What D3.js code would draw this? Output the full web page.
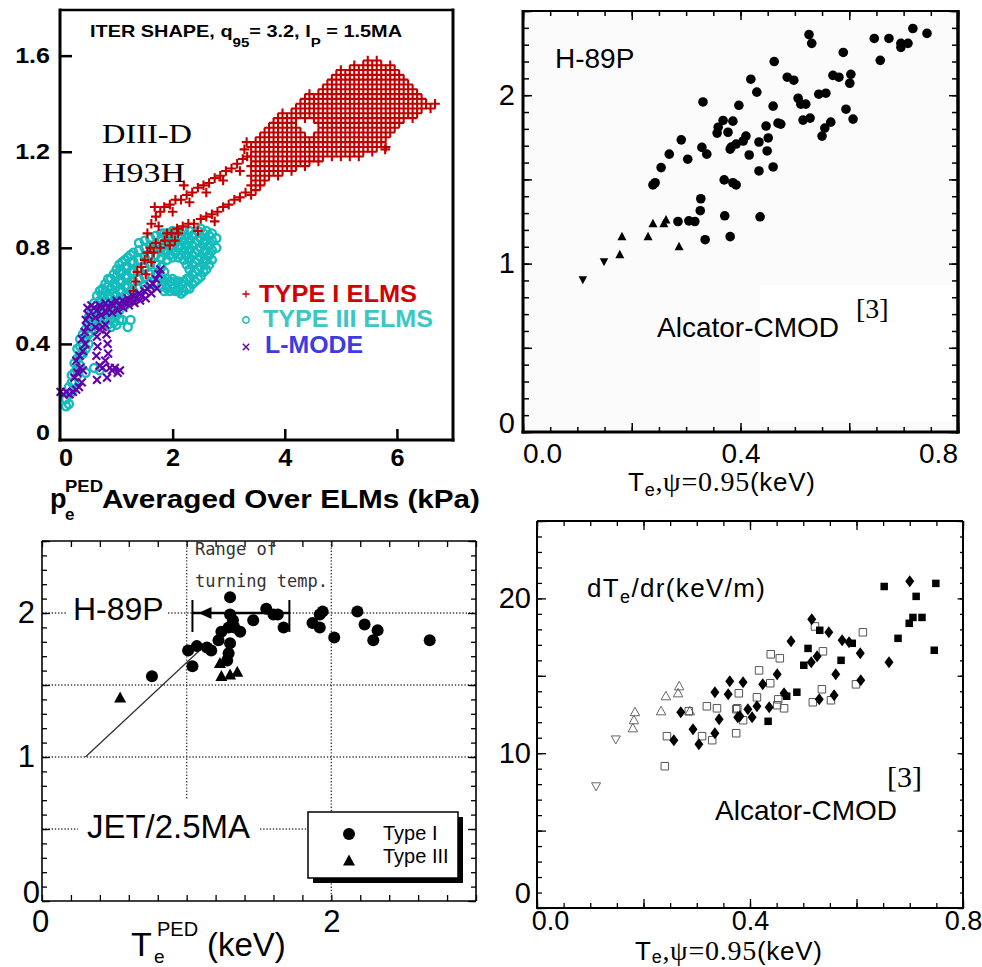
<!DOCTYPE html>
<html>
<head>
<meta charset="utf-8">
<script src="https://cdn.jsdelivr.net/npm/d3@7"></script>
<style>
  body { margin: 0; background: #fff; }
  svg { display: block; }
</style>
</head>
<body>
<svg id="fig" width="982" height="967"></svg>
<script>
// ---------- panel a : DIII-D, H93H vs p_e^PED ----------
const typeIStreaks = [
  [1.27,0.58],[1.3,0.62],[1.34,0.66],[1.37,0.7],[1.44,0.72],[1.5,0.75],[1.55,0.78],[1.6,0.8],[1.62,0.74],
  [1.52,0.69],[1.66,0.78],[1.7,0.82],[1.78,0.8],[1.86,0.83],[1.9,0.86],[1.95,0.81],[2.04,0.83],[2.1,0.86],
  [1.55,0.86],[1.62,0.9],[1.7,0.93],[1.75,0.89],[1.78,0.95],[1.85,0.97],[1.95,0.98],[2.0,0.95],[2.05,1.0],
  [2.15,1.0],[2.25,1.02],[2.3,0.99],[2.35,1.03],[2.45,1.05],[2.55,1.06],[2.6,1.03],[2.65,1.07],[2.75,1.09],
  [2.85,1.1],[2.9,1.08],[2.95,1.12],[3.05,1.13],[3.15,1.15],[3.2,1.12],[3.25,1.17],[3.33,1.18],
  [1.98,0.86],[2.08,0.88],[2.18,0.89],[2.28,0.9],[2.38,0.9],[2.45,0.87],[2.5,0.92],[2.6,0.93],[2.7,0.94],
  [2.75,0.91],[2.8,0.95],[2.9,0.97],[3.0,0.98],[3.1,1.0],[3.2,1.01],[3.3,1.03],
  [3.28,1.21],[3.32,1.24],[1.68,0.97],[2.2,1.06],[5.79,1.21]
];
const typeIBlock = [
  [3.40,[1.02,1.06,1.10,1.14,1.18,1.22]],
  [3.48,[1.04,1.08,1.12,1.16,1.20,1.24]],
  [3.56,[1.06,1.10,1.14,1.18,1.22,1.26]],
  [3.64,[1.08,1.12,1.16,1.20,1.24,1.28]],
  [3.72,[1.10,1.14,1.18,1.22,1.26,1.30]],
  [3.80,[1.12,1.16,1.20,1.24,1.28,1.32]],
  [3.88,[1.10,1.14,1.18,1.22,1.26,1.30,1.34]],
  [3.96,[1.12,1.16,1.20,1.24,1.28,1.32,1.36]],
  [4.04,[1.14,1.18,1.22,1.26,1.30,1.34]],
  [4.12,[1.12,1.16,1.20,1.24,1.28,1.32,1.36]],
  [4.20,[1.14,1.18,1.22,1.26,1.30,1.34,1.38]],
  [4.28,[1.16,1.20,1.24,1.28,1.36,1.40]],
  [4.36,[1.14,1.18,1.22,1.26,1.34,1.38,1.42]],
  [4.44,[1.16,1.20,1.24,1.36,1.40,1.44]],
  [4.52,[1.18,1.22,1.26,1.34,1.38,1.42]],
  [4.60,[1.16,1.20,1.24,1.28,1.32,1.36,1.40,1.44]],
  [4.68,[1.18,1.22,1.26,1.30,1.34,1.38,1.42,1.46]],
  [4.76,[1.20,1.24,1.28,1.32,1.36,1.40,1.44,1.48]],
  [4.84,[1.18,1.22,1.26,1.30,1.34,1.38,1.42,1.46,1.50]],
  [4.92,[1.20,1.24,1.28,1.32,1.36,1.40,1.44,1.48,1.52]],
  [5.00,[1.18,1.22,1.26,1.30,1.34,1.38,1.42,1.46,1.50,1.54]],
  [5.08,[1.20,1.24,1.28,1.32,1.36,1.40,1.44,1.48,1.52]],
  [5.16,[1.18,1.22,1.26,1.30,1.34,1.38,1.42,1.46,1.50,1.54]],
  [5.24,[1.20,1.24,1.28,1.32,1.36,1.40,1.44,1.48,1.52,1.56]],
  [5.32,[1.18,1.22,1.26,1.30,1.34,1.38,1.42,1.46,1.50,1.54]],
  [5.40,[1.20,1.24,1.28,1.32,1.36,1.40,1.44,1.48,1.52,1.56]],
  [5.48,[1.22,1.26,1.30,1.34,1.38,1.42,1.46,1.50,1.54,1.58]],
  [5.56,[1.20,1.24,1.28,1.32,1.36,1.40,1.44,1.48,1.52,1.56]],
  [5.64,[1.22,1.26,1.30,1.34,1.38,1.42,1.46,1.50,1.54,1.58]],
  [5.72,[1.24,1.28,1.32,1.36,1.40,1.44,1.48,1.52,1.56]],
  [5.80,[1.22,1.26,1.30,1.34,1.38,1.42,1.46,1.50,1.54]],
  [5.88,[1.28,1.32,1.36,1.40,1.44,1.48,1.52,1.56]],
  [5.96,[1.30,1.34,1.38,1.42,1.46,1.50,1.54]],
  [6.04,[1.32,1.36,1.40,1.44,1.48,1.52]],
  [6.12,[1.34,1.38,1.42,1.46,1.50]],
  [6.20,[1.36,1.40,1.44,1.48]],
  [6.28,[1.34,1.38,1.42,1.46]],
  [6.36,[1.36,1.40,1.44]],
  [6.44,[1.38,1.42]],
  [6.52,[1.40]],
  [6.60,[1.38]],
  [6.68,[1.40]]
];
const typeIIIBlock = [
  [0.10,[0.14,0.17]],
  [0.15,[0.15,0.19,0.22]],
  [0.20,[0.2,0.24,0.27]],
  [0.25,[0.24,0.28,0.32]],
  [0.30,[0.27,0.3,0.34,0.38]],
  [0.35,[0.31,0.35,0.39,0.42]],
  [0.40,[0.36,0.4,0.44]],
  [0.45,[0.28,0.38,0.42,0.46]],
  [0.50,[0.4,0.44,0.48,0.51]],
  [0.55,[0.45,0.49,0.53]],
  [0.60,[0.3,0.46,0.5,0.54,0.57]],
  [0.65,[0.48,0.52,0.56,0.6]],
  [0.70,[0.29,0.5,0.54,0.58,0.62]],
  [0.75,[0.48,0.52,0.56,0.6,0.63]],
  [0.80,[0.5,0.54,0.58,0.62,0.65]],
  [0.85,[0.48,0.52,0.56,0.6,0.64,0.67]],
  [0.90,[0.47,0.51,0.55,0.59,0.63,0.67]],
  [0.95,[0.49,0.53,0.57,0.61,0.65,0.69]],
  [1.00,[0.48,0.52,0.56,0.6,0.64,0.68,0.71]],
  [1.05,[0.5,0.54,0.58,0.62,0.66,0.7,0.73]],
  [1.10,[0.5,0.58,0.62,0.66,0.7,0.74]],
  [1.15,[0.56,0.6,0.64,0.68,0.72,0.75]],
  [1.20,[0.47,0.6,0.64,0.68,0.72,0.76]],
  [1.25,[0.5,0.62,0.66,0.7,0.74,0.77]],
  [1.30,[0.62,0.66,0.7,0.74,0.78]],
  [1.40,[0.63,0.67,0.71,0.75,0.79,0.82]],
  [1.50,[0.64,0.68,0.72,0.76,0.8,0.83]],
  [1.60,[0.65,0.69,0.73,0.77,0.81,0.84]],
  [1.70,[0.65,0.69,0.73,0.77,0.81,0.85]],
  [1.80,[0.64,0.68,0.72,0.76,0.8,0.84,0.86]],
  [1.85,[0.62,0.66,0.7,0.78,0.82,0.86]],
  [1.90,[0.63,0.67,0.75,0.79,0.83,0.86]],
  [1.95,[0.62,0.66,0.77,0.81,0.85]],
  [2.00,[0.63,0.67,0.76,0.8,0.84,0.87]],
  [2.05,[0.62,0.66,0.78,0.82,0.86]],
  [2.10,[0.62,0.66,0.76,0.8,0.84,0.87]],
  [2.15,[0.61,0.65,0.77,0.81,0.85]],
  [2.20,[0.62,0.66,0.75,0.79,0.83,0.87]],
  [2.25,[0.63,0.67,0.73,0.77,0.81,0.85]],
  [2.30,[0.63,0.67,0.71,0.75,0.79,0.83,0.87]],
  [2.35,[0.65,0.69,0.73,0.77,0.81,0.85]],
  [2.40,[0.66,0.7,0.74,0.78,0.82,0.86]],
  [2.45,[0.67,0.71,0.75,0.79,0.83,0.87]],
  [2.50,[0.68,0.72,0.76,0.8,0.84,0.88]],
  [2.55,[0.7,0.74,0.78,0.82,0.86]],
  [2.60,[0.71,0.75,0.79,0.83,0.87]],
  [2.65,[0.73,0.77,0.81,0.85]],
  [2.70,[0.75,0.79,0.83,0.86]],
  [2.78,[0.8,0.84]]
];
const lMode = [
  [0.0,0.2],[0.05,0.19],[0.1,0.2],[0.16,0.19],[0.22,0.2],[0.28,0.21],[0.33,0.22],[0.38,0.24],
  [0.25,0.26],[0.3,0.28],[0.35,0.3],[0.4,0.29],[0.28,0.33],[0.34,0.35],[0.4,0.37],[0.44,0.4],[0.38,0.42],
  [0.43,0.45],[0.47,0.47],[0.45,0.5],[0.5,0.52],[0.48,0.55],[0.55,0.56],
  [0.6,0.55],[0.65,0.54],[0.7,0.56],[0.75,0.55],[0.8,0.57],[0.85,0.55],[0.9,0.57],[0.95,0.56],[1.0,0.58],
  [1.05,0.56],[1.1,0.58],[1.15,0.57],[1.2,0.59],[1.25,0.58],[1.3,0.6],[1.35,0.59],[1.4,0.61],[1.45,0.6],
  [1.5,0.62],[1.55,0.63],[1.6,0.64],[1.65,0.65],[1.7,0.67],[1.75,0.69],[1.78,0.71],
  [0.62,0.51],[0.72,0.52],[0.82,0.53],[0.92,0.53],[1.02,0.54],[1.12,0.55],[1.22,0.56],[1.32,0.57],
  [1.42,0.58],[1.52,0.59],[1.62,0.61],[1.72,0.63],
  [0.62,0.47],[0.65,0.43],[0.66,0.39],[0.64,0.35],[0.7,0.46],[0.75,0.47],[0.8,0.48],[0.82,0.44],
  [0.84,0.4],[0.85,0.36],[0.8,0.33],[0.75,0.3],[0.7,0.31],[0.88,0.3],[0.92,0.29],[0.97,0.3],
  [1.02,0.28],[1.06,0.29],[0.65,0.25],[0.83,0.26]
];
const ticksAx = [0, 2, 4, 6];
const ticksAy = [0, 0.4, 0.8, 1.2, 1.6];

// ---------- panel b : Alcator C-Mod, H-89P vs Te(psi=0.95) ----------
const cmodCircle = [
  [0.331,1.96],[0.397,1.94],[0.359,1.81],[0.357,1.775],[0.368,1.85],[0.377,1.78],[0.291,1.735],[0.329,1.69],
  [0.338,1.65],[0.381,1.68],[0.392,1.71],[0.269,1.65],[0.303,1.62],[0.254,1.57],[0.239,1.467],[0.243,1.48],
  [0.37,1.497],[0.386,1.48],[0.327,1.385],[0.326,1.314],[0.285,1.25],[0.305,1.254],[0.316,1.25],[0.371,1.284],
  [0.335,1.142],[0.381,1.16],[0.526,2.36],[0.531,2.308],[0.646,2.337],[0.673,2.337],[0.717,2.396],[0.743,2.367],
  [0.695,2.308],[0.708,2.308],[0.695,2.284],[0.657,2.207],[0.589,2.254],[0.462,2.2],[0.419,2.095],[0.486,2.107],
  [0.498,2.089],[0.57,2.118],[0.581,2.107],[0.603,2.124],[0.601,2.071],[0.43,2.018],[0.506,1.982],[0.511,1.947],
  [0.52,1.947],[0.544,2.006],[0.557,2.012],[0.46,1.935],[0.594,1.917],[0.607,1.858],[0.515,1.852],[0.528,1.864],
  [0.469,1.834],[0.474,1.828],[0.447,1.817],[0.566,1.84],[0.555,1.805],[0.55,1.757],[0.41,1.757],[0.405,1.728],
  [0.434,1.722],[0.451,1.746],[0.449,1.669],[0.416,1.645],[0.434,1.55],[0.46,1.574],[0.392,1.467],[0.436,1.278],
  [0.386,1.846],[0.383,1.692]
];
const cmodTriUp = [[0.182,1.16],[0.23,1.16],[0.239,1.237],[0.263,1.26],[0.259,1.237],[0.287,1.101],[0.178,1.053]];
const cmodTriDown = [[0.11,0.905],[0.149,1.012]];

// ---------- panel c : JET 2.5MA, H-89P vs Te^PED ----------
const jetTypeI = [
  [1.3,2.11],[0.76,1.56],[1.04,1.63],[1.01,1.74],[1.07,1.77],[1.14,1.76],[1.17,1.74],[1.22,1.81],[1.24,1.87],
  [1.29,1.9],[1.3,1.99],[1.32,1.95],[1.33,1.9],[1.37,1.87],[1.3,1.79],[1.29,1.72],[1.28,1.67],[1.46,1.95],
  [1.55,2.03],[1.6,1.99],[1.63,1.99],[1.67,1.9],[1.87,1.93],[1.92,1.99],[1.94,2.01],[1.92,1.9],[2.02,1.83],
  [2.18,2.01],[2.23,1.92],[2.29,1.81],[2.32,1.88],[2.68,1.81]
];
const jetTypeIII = [[0.54,1.41],[1.23,1.65],[1.24,1.56],[1.3,1.57],[1.35,1.59]];
const jetFit = [[0.3,1.0],[1.1,1.75]];
const turnRange = [1.04, 1.71];   // horizontal bar at H = 2
const turnMark = [1.13, 2.0];

// ---------- panel d : Alcator C-Mod, dTe/dr vs Te ----------
const gradDiamond = [
  [0.257,10.84],[0.27,12.65],[0.293,11.55],[0.304,10.58],[0.334,13.94],[0.334,11.29],[0.342,12.19],[0.359,13.81],
  [0.362,14.65],[0.377,12.32],[0.7,21.1],[0.661,15.87],[0.516,18.65],[0.548,17.81],[0.573,17.29],[0.586,17.16],
  [0.607,16.45],[0.526,16.26],[0.515,15.87],[0.477,17.23],[0.451,15.1],[0.561,15.1],[0.608,14.71],[0.558,13.74],
  [0.53,13.48],[0.424,14.45],[0.387,14.58],[0.464,13.87],[0.436,12.97],[0.413,13.03],[0.396,12.84],[0.404,12.32],
  [0.381,12.39]
];
const gradSquare = [
  [0.652,20.77],[0.712,20.13],[0.749,20.97],[0.699,18.39],[0.706,18.77],[0.723,18.77],[0.678,17.42],[0.746,16.65],
  [0.509,16.77],[0.531,17.94],[0.501,15.68],[0.571,16.0],[0.592,17.1],[0.488,13.94],[0.469,13.68],[0.434,12.06]
];
const gradOpenSquare = [
  [0.24,9.16],[0.244,11.1],[0.285,12.71],[0.31,11.1],[0.319,13.03],[0.329,10.84],[0.338,12.9],[0.374,12.84],
  [0.374,11.29],[0.379,13.87],[0.522,18.19],[0.612,17.81],[0.537,16.58],[0.439,16.39],[0.456,16.13],[0.417,15.35],
  [0.438,14.52],[0.599,14.45],[0.413,13.61],[0.453,13.48],[0.451,13.1],[0.464,12.9],[0.376,12.9],[0.387,12.13],
  [0.535,14.13],[0.518,13.29],[0.552,13.42]
];
const gradOpenTriUp = [[0.18,11.61],[0.182,12.13],[0.184,12.65],[0.233,12.71],[0.242,13.68],[0.265,13.87],[0.267,14.32],[0.287,12.71]];
const gradOpenTriDown = [[0.111,7.87],[0.148,10.9]];

const SANS = "'Liberation Sans', Arial, Helvetica, sans-serif";
const SERIF = "'Liberation Serif', 'Times New Roman', serif";
const MONO = "'DejaVu Sans Mono', monospace";

const svg = d3.select('#fig');

// ---------- helpers ----------
function seg(g, x1, y1, x2, y2, w, color) {
  return g.append('line').attr('x1', x1).attr('y1', y1).attr('x2', x2).attr('y2', y2)
    .attr('stroke', color || '#000').attr('stroke-width', w);
}

function label(g, x, y, txt, size, o = {}) {
  const t = g.append('text').attr('x', x).attr('y', y).attr('font-size', size)
    .attr('font-family', o.family || SANS).attr('fill', o.fill || '#000').text(txt);
  if (o.bold) t.attr('font-weight', 'bold');
  if (o.len) t.attr('textLength', o.len).attr('lengthAdjust', 'spacingAndGlyphs');
  return t;
}

function tickSet(g, axis, tx, ty, values, len, w) {
  const a = g.append('g').attr('transform', `translate(${tx},${ty})`)
    .call(axis.tickValues(values).tickSize(-len).tickFormat(''));
  a.select('.domain').remove();
  a.selectAll('text').remove();
  a.selectAll('line').attr('stroke', '#000').attr('stroke-width', w);
}

function tickLabels(g, axis, tx, ty, values, fmt, pad, size, o = {}) {
  const a = g.append('g').attr('transform', `translate(${tx},${ty})`)
    .call(axis.tickValues(values).tickSize(0).tickPadding(pad).tickFormat(fmt));
  a.select('.domain').remove();
  a.attr('font-size', size).attr('font-family', SANS).attr('font-weight', o.bold ? 'bold' : null);
  a.selectAll('text').attr('fill', '#000')
    .attr('transform', d => (o.nudge && o.nudge[d]) ? `translate(${o.nudge[d]})` : null);
  if (o.stretch) {
    a.selectAll('text').each(function () {
      this.setAttribute('textLength', this.getComputedTextLength() * o.stretch);
      this.setAttribute('lengthAdjust', 'spacingAndGlyphs');
    });
  }
  return a;
}

function scatter(g, data, x, y, shape, fill, stroke, sw) {
  return g.append('g').selectAll('path').data(data).join('path')
    .attr('transform', d => `translate(${x(d[0])},${y(d[1])})`)
    .attr('d', shape).attr('fill', fill).attr('stroke', stroke || 'none').attr('stroke-width', sw || 0);
}

const circ = r => d3.symbol(d3.symbolCircle, Math.PI * r * r)();
const plus = s => `M${-s},0H${s}M0,${-s}V${s}`;
const cross = s => `M${-s},${-s}L${s},${s}M${-s},${s}L${s},${-s}`;
const triUp = (w, h) => `M0,${-h * 0.58}L${w / 2},${h * 0.42}L${-w / 2},${h * 0.42}Z`;
const triDown = (w, h) => `M0,${h * 0.58}L${w / 2},${-h * 0.42}L${-w / 2},${-h * 0.42}Z`;
const diamond = (w, h) => `M0,${-h / 2}L${w / 2},0L0,${h / 2}L${-w / 2},0Z`;
const square = s => `M${-s / 2},${-s / 2}h${s}v${s}h${-s}Z`;

// =====================================================================
// panel a
// =====================================================================
{
  const g = svg.append('g');
  const x = d3.scaleLinear().domain([0, 7]).range([60.5, 453]);
  const y = d3.scaleLinear().domain([0, 1.79]).range([440, 10]);

  const typeI = typeIStreaks.concat(typeIBlock.flatMap(([xv, ys]) => ys.map(v => [xv, v])));
  const typeIII = typeIIIBlock.flatMap(([xv, ys]) => ys.map(v => [xv, v]));

  scatter(g, typeIII, x, y, circ(4), 'none', '#14bcbc', 2.4);
  scatter(g, typeI, x, y, plus(4.8), 'none', '#c20000', 2.1);
  scatter(g, lMode, x, y, cross(3.9), 'none', '#6200ac', 2.1);

  // frame
  seg(g, 60, 8.5, 60, 441.5, 3);
  seg(g, 58.5, 440, 454.5, 440, 3);
  seg(g, 60, 10, 453, 10, 2.5);
  seg(g, 453, 8.5, 453, 441.5, 3);

  tickSet(g, d3.axisLeft(y), 60, 0, ticksAy.slice(1), 12, 2.5);
  tickSet(g, d3.axisBottom(x), 0, 440, ticksAx.slice(1), 11, 2.5);
  tickLabels(g, d3.axisLeft(y), 60, 0, ticksAy, d => d === 0 ? '0' : d3.format('.1f')(d), 10, 22,
    { bold: true, stretch: 1.14, nudge: { 0: '0,-8' } });
  tickLabels(g, d3.axisBottom(x), 0, 440, ticksAx, d3.format('d'), 10, 23,
    { bold: true, stretch: 1.1, nudge: { 0: '5,0' } });

  // title
  const t = g.append('text').attr('x', 90).attr('y', 37).attr('font-size', 16.5)
    .attr('font-weight', 'bold').attr('font-family', SANS)
    .attr('textLength', 312).attr('lengthAdjust', 'spacingAndGlyphs');
  t.append('tspan').text('ITER SHAPE, q');
  t.append('tspan').attr('font-size', 12.5).attr('dy', 10).text('95');
  t.append('tspan').attr('dy', -10).text('= 3.2, I');
  t.append('tspan').attr('font-size', 12.5).attr('dy', 10).text('P');
  t.append('tspan').attr('dy', -10).text(' = 1.5MA');

  label(g, 102, 143, 'DIII-D', 27, { family: SERIF, len: 90 });
  label(g, 102, 182, 'H93H', 27, { family: SERIF, len: 83 });

  // legend
  g.append('path').attr('transform', 'translate(246,294)').attr('d', plus(3.6))
    .attr('stroke', '#c20000').attr('stroke-width', 1.3);
  g.append('path').attr('transform', 'translate(246,320)').attr('d', circ(3.2))
    .attr('fill', 'none').attr('stroke', '#14bcbc').attr('stroke-width', 1.5);
  g.append('path').attr('transform', 'translate(246,347)').attr('d', cross(3.2))
    .attr('stroke', '#6200ac').attr('stroke-width', 1.4);
  label(g, 259, 302, 'TYPE I ELMS', 23.5, { bold: true, fill: '#d20000', len: 158 });
  label(g, 263, 327, 'TYPE III ELMS', 23.5, { bold: true, fill: '#3cc6c6', len: 170 });
  label(g, 265, 353, 'L-MODE', 23.5, { bold: true, fill: '#3c3ce0', len: 98 });

  // x label
  label(g, 50, 508, 'p', 27, { bold: true });
  label(g, 65, 520, 'e', 17, { bold: true });
  label(g, 65, 492, 'PED', 17, { bold: true, len: 38 });
  label(g, 102, 508, 'Averaged Over ELMs (kPa)', 26, { bold: true, len: 378 });
}

// =====================================================================
// panel b
// =====================================================================
function teLabel(g, x0, y0, sub) {
  const t = g.append('text').attr('x', x0).attr('y', y0).attr('font-size', 26).attr('font-family', SANS)
    .attr('textLength', 187).attr('lengthAdjust', 'spacing');
  t.append('tspan').text('T');
  t.append('tspan').attr('font-size', 18).attr('dy', sub).text('e');
  t.append('tspan').attr('font-family', SERIF).attr('font-size', 28).attr('dy', -sub).text(',ψ=0.95');
  t.append('tspan').text('(keV)');
}

{
  const g = svg.append('g');
  const x = d3.scaleLinear().domain([0, 0.8]).range([523, 958]);
  const y = d3.scaleLinear().domain([0, 2.5]).range([432, 11]);

  g.append('rect').attr('x', 523).attr('y', 11).attr('width', 435).attr('height', 421).attr('fill', '#fbfbfb');
  g.append('rect').attr('x', 760).attr('y', 285).attr('width', 193).attr('height', 137).attr('fill', '#fff');

  scatter(g, cmodCircle, x, y, circ(4.8), '#000');
  scatter(g, cmodTriUp, x, y, triUp(9, 8.5), '#000');
  scatter(g, cmodTriDown, x, y, triDown(8.5, 8), '#000');

  seg(g, 523, 10, 523, 433.5, 3);
  seg(g, 521.5, 432, 959.5, 432, 3);
  seg(g, 523, 11, 958, 11, 2);
  seg(g, 958, 10, 958, 433.5, 3.5);

  const sides = (yv, ylen, xv, xlen) => {
    tickSet(g, d3.axisLeft(y), 523, 0, yv, ylen, 1.5);
    tickSet(g, d3.axisRight(y), 958, 0, yv, ylen, 1.5);
    tickSet(g, d3.axisBottom(x), 0, 432, xv, xlen, 1.5);
    tickSet(g, d3.axisTop(x), 0, 11, xv, xlen, 1.5);
  };
  sides(y.ticks(25), 6, x.ticks(16), 5);
  sides(y.ticks(5), 9, x.ticks(4), 9);

  tickLabels(g, d3.axisLeft(y), 523, 0, [0, 1, 2], d3.format('d'), 8, 29, { nudge: { 0: '0,-9' } });
  tickLabels(g, d3.axisBottom(x), 0, 432, [0, 0.4, 0.8], d3.format('.1f'), 11, 28,
    { nudge: { 0: '19,0', 0.8: '-20,0' } });

  label(g, 555, 68, 'H-89P', 28);
  label(g, 657, 337, 'Alcator-CMOD', 28);
  label(g, 856, 318, '[3]', 28, { family: SERIF });
  teLabel(g, 628, 491, 5);
}

// =====================================================================
// panel c
// =====================================================================
{
  const g = svg.append('g');
  const x = d3.scaleLinear().domain([0, 3]).range([42, 476]);
  const y = d3.scaleLinear().domain([0, 2.5]).range([901, 541]);
  const dot = sel => sel.attr('stroke-dasharray', '1.4,1.8');

  dot(seg(g, x(1), 541, x(1), 800, 1.4, '#444'));
  dot(seg(g, x(2), 541, x(2), 901, 1.4, '#444'));
  dot(seg(g, 42, y(1.5), 476, y(1.5), 1.4, '#444'));
  dot(seg(g, 42, y(1), 476, y(1), 1.4, '#444'));
  dot(seg(g, 42, y(2), 67, y(2), 1.4, '#444'));
  dot(seg(g, 168, y(2), 476, y(2), 1.4, '#444'));
  dot(seg(g, 42, y(0.5), 78, y(0.5), 1.4, '#444'));
  dot(seg(g, 260, y(0.5), 310, y(0.5), 1.4, '#444'));

  g.append('path').attr('d', d3.line().x(d => x(d[0])).y(d => y(d[1]))(jetFit))
    .attr('fill', 'none').attr('stroke', '#333').attr('stroke-width', 1.3);

  // range of turning temperature
  seg(g, x(turnRange[0]), y(2), x(turnRange[1]), y(2), 2.6);
  seg(g, x(turnRange[0]), 600, x(turnRange[0]), 632, 2);
  seg(g, x(turnRange[1]), 600, x(turnRange[1]), 632, 2);
  g.append('path').attr('transform', `translate(${x(turnMark[0])},${y(turnMark[1])})`)
    .attr('d', 'M-7,0L6,-6L6,6Z').attr('fill', '#000');

  scatter(g, jetTypeI, x, y, circ(6), '#000');
  scatter(g, jetTypeIII, x, y, triUp(12, 11), '#000');

  seg(g, 42, 541, 42, 901, 1.6);
  seg(g, 42, 901, 476, 901, 1.6);
  seg(g, 42, 541, 476, 541, 1.6);
  seg(g, 476, 541, 476, 901, 1.6);

  const sides = (yv, ylen, xv, xlen) => {
    tickSet(g, d3.axisLeft(y), 42, 0, yv, ylen, 1.3);
    tickSet(g, d3.axisRight(y), 476, 0, yv, ylen, 1.3);
    if (xv) {
      tickSet(g, d3.axisBottom(x), 0, 901, xv, xlen, 1.3);
      tickSet(g, d3.axisTop(x), 0, 541, xv, xlen, 1.3);
    }
  };
  sides(y.ticks(25), 5, x.ticks(15), 6);
  sides(y.ticks(5), 8);

  tickLabels(g, d3.axisLeft(y), 42, 0, [0, 1, 2], d3.format('d'), 7, 31, { nudge: { 0: '5,-8' } });
  tickLabels(g, d3.axisBottom(x), 0, 901, [0, 2], d3.format('d'), 9, 31, { nudge: { 0: '-2,0' } });

  label(g, 195, 555, 'Range of', 17, { family: MONO, fill: '#333' });
  label(g, 195, 587, 'turning temp.', 17, { family: MONO, fill: '#333', len: 133 });
  label(g, 73, 620, 'H-89P', 32);
  label(g, 87, 838, 'JET/2.5MA', 33, { len: 163 });

  // legend
  g.append('rect').attr('x', 313).attr('y', 817).attr('width', 150).attr('height', 66).attr('fill', '#000');
  g.append('rect').attr('x', 308).attr('y', 812).attr('width', 150).attr('height', 66)
    .attr('fill', '#fff').attr('stroke', '#000').attr('stroke-width', 1.5);
  g.append('path').attr('transform', 'translate(349,834)').attr('d', circ(6)).attr('fill', '#000');
  g.append('path').attr('transform', 'translate(349,861)').attr('d', triUp(12, 11)).attr('fill', '#000');
  label(g, 383, 840, 'Type I', 20);
  label(g, 383, 863, 'Type III', 20);

  // x label
  label(g, 131, 956, 'T', 34);
  label(g, 157, 936, 'PED', 20);
  label(g, 154, 963, 'e', 19);
  label(g, 207, 956, '(keV)', 33);
}

// =====================================================================
// panel d
// =====================================================================
{
  const g = svg.append('g');
  const x = d3.scaleLinear().domain([0, 0.8]).range([537, 963]);
  const y = d3.scaleLinear().domain([0, 25]).range([908, 521]);

  scatter(g, gradOpenTriDown, x, y, triDown(9, 8), 'none', '#666', 1);
  scatter(g, gradOpenTriUp, x, y, triUp(9.5, 8.5), 'none', '#666', 1);
  scatter(g, gradOpenSquare, x, y, square(7.5), 'none', '#555', 1);
  scatter(g, gradSquare, x, y, square(7.5), '#000');
  scatter(g, gradDiamond, x, y, diamond(9, 12), '#000');

  seg(g, 537, 521, 537, 909, 2);
  seg(g, 536, 908, 964, 908, 2);
  seg(g, 537, 521, 963, 521, 2);
  seg(g, 963, 521, 963, 909, 2);

  const sides = (yv, ylen, xv, xlen) => {
    tickSet(g, d3.axisLeft(y), 537, 0, yv, ylen, 1.3);
    tickSet(g, d3.axisRight(y), 963, 0, yv, ylen * 0.6, 1.3);
    tickSet(g, d3.axisBottom(x), 0, 908, xv, xlen, 1.3);
    tickSet(g, d3.axisTop(x), 0, 521, xv, xlen, 1.3);
  };
  sides(y.ticks(25), 5, x.ticks(16), 5);
  sides(y.ticks(5), 9, x.ticks(4), 9);

  tickLabels(g, d3.axisLeft(y), 537, 0, [0, 10, 20], d3.format('d'), 6, 29, { nudge: { 0: '0,-15' } });
  tickLabels(g, d3.axisBottom(x), 0, 908, [0, 0.4, 0.8], d3.format('.1f'), 3, 27, { nudge: { 0: '13,0' } });

  const t = g.append('text').attr('x', 587).attr('y', 597).attr('font-size', 26).attr('font-family', SANS)
    .attr('textLength', 178).attr('lengthAdjust', 'spacing');
  t.append('tspan').text('dT');
  t.append('tspan').attr('font-size', 18).attr('dy', 6).text('e');
  t.append('tspan').attr('dy', -6).text('/dr(keV/m)');

  label(g, 887, 787, '[3]', 30, { family: SERIF });
  label(g, 715, 820, 'Alcator-CMOD', 28);
  teLabel(g, 635, 960, 3);
}
</script>
</body>
</html>
